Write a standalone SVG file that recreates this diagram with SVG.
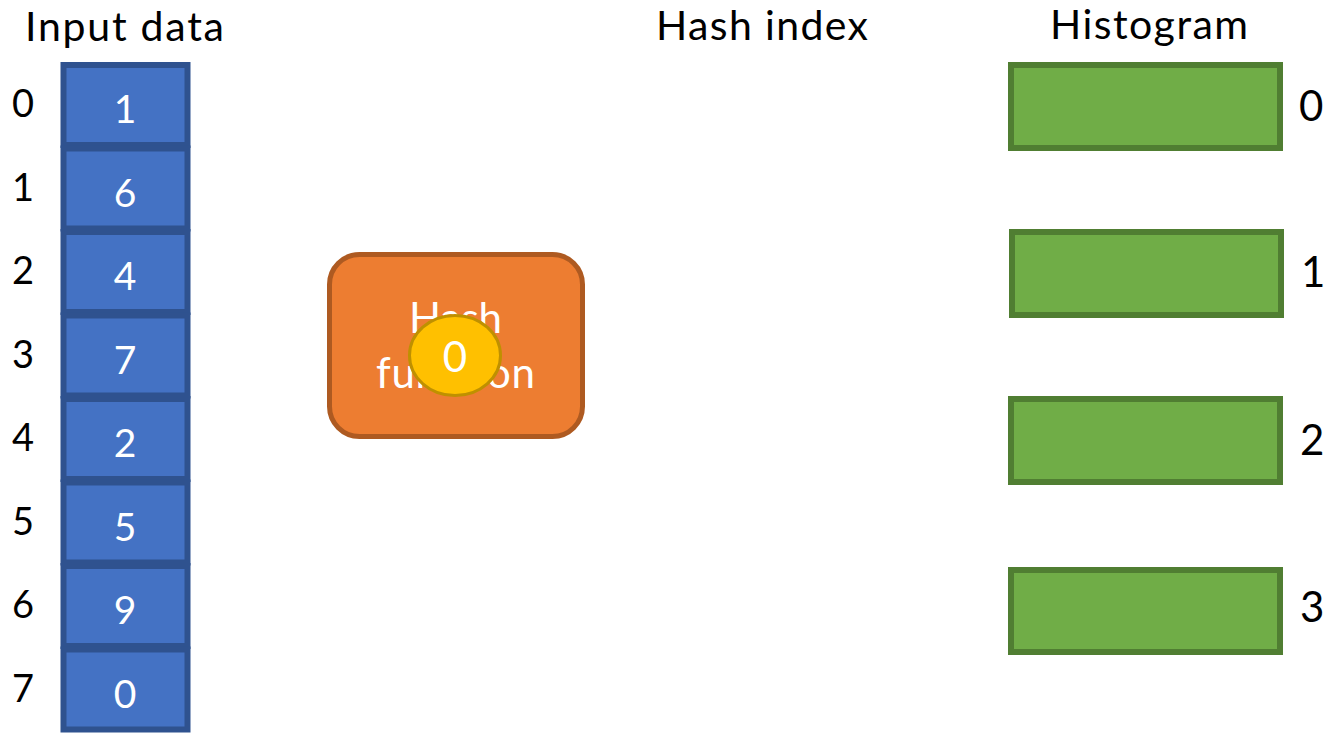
<svg xmlns="http://www.w3.org/2000/svg" width="1331" height="735" viewBox="0 0 1331 735">
<style>
.t{font-family:Lato,"Liberation Sans",sans-serif;font-size:41px;fill:#000}
.idx{font-family:Lato,"Liberation Sans",sans-serif;font-size:38px;fill:#000}
.hl{font-family:Lato,"Liberation Sans",sans-serif;font-size:42px;fill:#000}
.w{font-family:Lato,"Liberation Sans",sans-serif;font-size:39px;fill:#fff;text-anchor:middle}
.cell{fill:#4472C4;stroke:#2F528F;stroke-width:6}
.bin{fill:#70AD47;stroke:#507E32;stroke-width:6}
</style>
<rect width="1331" height="735" fill="#fff"/>
<g id="titles">
<text class="t" x="25" y="41" textLength="199" lengthAdjust="spacing">Input data</text>
<text class="t" x="656" y="40" textLength="212" lengthAdjust="spacing">Hash index</text>
<text class="t" x="1050" y="39" textLength="198" lengthAdjust="spacing">Histogram</text>
</g>
<g id="input">
<rect class="cell" x="63.5" y="65" width="124" height="80"/>
<rect class="cell" x="63.5" y="148.5" width="124" height="80"/>
<rect class="cell" x="63.5" y="232" width="124" height="80"/>
<rect class="cell" x="63.5" y="315.5" width="124" height="80"/>
<rect class="cell" x="63.5" y="399" width="124" height="80"/>
<rect class="cell" x="63.5" y="482.5" width="124" height="80"/>
<rect class="cell" x="63.5" y="566" width="124" height="80"/>
<rect class="cell" x="63.5" y="649.5" width="124" height="80"/>
<text class="w" x="125" y="123">1</text>
<text class="w" x="125" y="206.5">6</text>
<text class="w" x="125" y="290">4</text>
<text class="w" x="125" y="373.5">7</text>
<text class="w" x="125" y="457">2</text>
<text class="w" x="125" y="540.5">5</text>
<text class="w" x="125" y="624">9</text>
<text class="w" x="125" y="707.5">0</text>
<text class="idx" x="12" y="117">0</text>
<text class="idx" x="12" y="200.5">1</text>
<text class="idx" x="12" y="284">2</text>
<text class="idx" x="12" y="367.5">3</text>
<text class="idx" x="12" y="451">4</text>
<text class="idx" x="12" y="534.5">5</text>
<text class="idx" x="12" y="618">6</text>
<text class="idx" x="12" y="701.5">7</text>
</g>
<g id="hash">
<rect x="329.5" y="254.5" width="253" height="182" rx="30" fill="#ED7D31" stroke="#AE5A21" stroke-width="5"/>
<text class="w" x="455.5" y="333" style="font-size:42px" textLength="93" lengthAdjust="spacing">Hash</text>
<text class="w" x="455.5" y="388" style="font-size:42px" textLength="159" lengthAdjust="spacing">function</text>
</g>
<g id="token">
<ellipse cx="455" cy="355.5" rx="45.5" ry="40" fill="#FFC000" stroke="#BF9000" stroke-width="3"/>
<text class="w" x="455" y="372" style="font-size:42px">0</text>
</g>
<g id="histogram">
<rect class="bin" x="1011" y="65" width="269" height="83"/>
<rect class="bin" x="1012" y="232" width="269" height="83"/>
<rect class="bin" x="1011" y="399" width="269" height="83"/>
<rect class="bin" x="1011" y="570" width="269" height="82"/>
<text class="hl" x="1299" y="121">0</text>
<text class="hl" x="1301" y="287">1</text>
<text class="hl" x="1300" y="455">2</text>
<text class="hl" x="1300" y="622">3</text>
</g>
<g id="connectors"></g>
</svg>
